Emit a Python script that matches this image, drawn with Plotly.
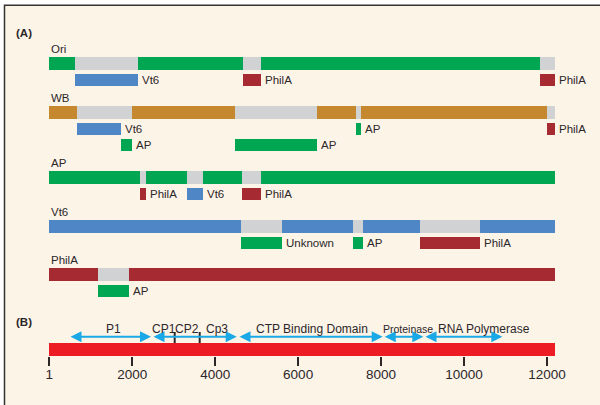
import plotly.graph_objects as go

# ---------------- data ----------------
GENOME_LENGTH = 12195

GENOMES = ["Ori", "WB", "AP", "Vt6", "PhilA"]

# main genome bars: (start, end, matching isolate or "gap")
ORI_SEGMENTS = [(0, 621, "Ori"), (621, 2139, "gap"), (2139, 4671, "Ori"),
                (4671, 5105, "gap"), (5105, 11831, "Ori"), (11831, 12195, "gap")]
WB_SEGMENTS = [(0, 669, "WB"), (669, 1995, "gap"), (1995, 4478, "WB"),
               (4478, 6448, "gap"), (6448, 7396, "WB"), (7396, 7516, "gap"),
               (7516, 11993, "WB"), (11993, 12195, "gap")]
AP_SEGMENTS = [(0, 2188, "AP"), (2188, 2333, "gap"), (2333, 3321, "AP"),
               (3321, 3707, "gap"), (3707, 4648, "AP"), (4648, 5105, "gap"),
               (5105, 12195, "AP")]
VT6_SEGMENTS = [(0, 4623, "Vt6"), (4623, 5612, "gap"), (5612, 7324, "Vt6"),
                (7324, 7565, "gap"), (7565, 8939, "Vt6"), (8939, 10386, "gap"),
                (10386, 12195, "Vt6")]
PHILA_SEGMENTS = [(0, 1175, "PhilA"), (1175, 1923, "gap"), (1923, 12195, "PhilA")]

# recombinant regions: (start, end, closest isolate, sub-row)
ORI_HITS = [(621, 2139, "Vt6", 0), (4671, 5105, "PhilA", 0), (11831, 12195, "PhilA", 0)]
WB_HITS = [(669, 1724, "Vt6", 0), (7396, 7516, "AP", 0), (11993, 12195, "PhilA", 0),
           (1731, 1995, "AP", 1), (4478, 6448, "AP", 1)]
AP_HITS = [(2188, 2333, "PhilA", 0), (3321, 3707, "Vt6", 0), (4648, 5105, "PhilA", 0)]
VT6_HITS = [(4623, 5612, "Unknown", 0), (7324, 7565, "AP", 0), (8939, 10386, "PhilA", 0)]
PHILA_HITS = [(1175, 1923, "AP", 0)]

SEGMENTS = [ORI_SEGMENTS, WB_SEGMENTS, AP_SEGMENTS, VT6_SEGMENTS, PHILA_SEGMENTS]
HITS = [ORI_HITS, WB_HITS, AP_HITS, VT6_HITS, PHILA_HITS]

# panel B: genome organisation
DOMAIN_NAMES = ["P1", "CP1", "CP2", "Cp3", "CTP Binding Domain", "Proteinase", "RNA Polymerase"]
DOMAIN_START = [476, 2477, 3024, 3627, 4551, 8053, 9035]
DOMAIN_END = [2453, 3024, 3627, 4519, 8039, 9018, 10923]
ARROW_GROUPS = [["P1"], ["CP1", "CP2", "Cp3"], ["CTP Binding Domain"],
                ["Proteinase"], ["RNA Polymerase"]]

TICK_VALUES = [1, 2000, 4000, 6000, 8000, 10000, 12000]
TICK_LABELS = ["1", "2000", "4000", "6000", "8000", "10000", "12000"]

# ---------------- style ----------------
COLORS = {"Ori": "#00a651", "AP": "#00a651", "Unknown": "#00a651",
          "WB": "#c5882f", "Vt6": "#4f86c5", "PhilA": "#a52a31", "gap": "#d1d2d4"}
TEXT = "#2b2728"
FONT = "Liberation Sans, Arial, sans-serif"
ARROW = "#1aa9e6"
GENOME_RED = "#ed1c24"

W, H = 600, 405
PX0 = 49.26           # pixel of genome position 0
UNITS_PER_PX = 24.11
X_MIN = -PX0 * UNITS_PER_PX
X_MAX = X_MIN + W * UNITS_PER_PX

MAIN_Y = [63.5, 112.3, 177.3, 226.3, 274.3]
HIT_DY = 16.6
HIT_ROW_DY = 16.3
BAR_W = 12.5

fig = go.Figure()
ann = []

for gi, g in enumerate(GENOMES):
    segs = SEGMENTS[gi]
    y0 = MAIN_Y[gi]
    fig.add_trace(go.Bar(
        orientation="h", y=[y0] * len(segs),
        base=[s[0] for s in segs], x=[s[1] - s[0] for s in segs],
        width=BAR_W, marker=dict(color=[COLORS[s[2]] for s in segs], line=dict(width=0)),
        hoverinfo="skip"))
    ann.append(dict(x=0, y=y0 - 14.5, xref="x", yref="y", text=g, showarrow=False,
                    xanchor="left", yanchor="middle", xshift=0,
                    font=dict(size=11.5, color=TEXT, family=FONT)))
    hits = HITS[gi]
    hy = [y0 + HIT_DY + h[3] * HIT_ROW_DY for h in hits]
    fig.add_trace(go.Bar(
        orientation="h", y=hy,
        base=[h[0] for h in hits], x=[h[1] - h[0] for h in hits],
        width=BAR_W, marker=dict(color=[COLORS[h[2]] for h in hits], line=dict(width=0)),
        hoverinfo="skip"))
    for h, yy in zip(hits, hy):
        ann.append(dict(x=h[1], y=yy, xref="x", yref="y", text=h[2], showarrow=False,
                        xanchor="left", yanchor="middle", xshift=2,
                        font=dict(size=11.5, color=TEXT, family=FONT)))

# panel B genome bar
B_Y = 349.2
fig.add_trace(go.Bar(orientation="h", y=[B_Y], base=[0], x=[GENOME_LENGTH], width=13,
                     marker=dict(color=GENOME_RED, line=dict(width=0)), hoverinfo="skip"))

ARROW_Y = 336.7
LABEL_Y = 328.5
idx = {n: i for i, n in enumerate(DOMAIN_NAMES)}
div_x, div_y = [], []
for grp in ARROW_GROUPS:
    s = DOMAIN_START[idx[grp[0]]]
    e = DOMAIN_END[idx[grp[-1]]]
    ann.append(dict(x=e, y=ARROW_Y, ax=s, ay=ARROW_Y, xref="x", yref="y", axref="x", ayref="y",
                    text="", showarrow=True, arrowside="end+start", arrowhead=2, startarrowhead=2,
                    arrowsize=1.1, startarrowsize=1.1, arrowwidth=2, arrowcolor=ARROW,
                    standoff=0, startstandoff=0))
    for n in grp[1:]:
        div_x += [DOMAIN_START[idx[n]], DOMAIN_START[idx[n]], None]
        div_y += [332, 343, None]

fig.add_trace(go.Scatter(x=div_x, y=div_y, mode="lines", line=dict(color=TEXT, width=2),
                         hoverinfo="skip"))

NUDGE = {"P1": 80, "CP1": 10, "CP2": 6, "Cp3": -36, "CTP Binding Domain": 47,
         "Proteinase": 113, "RNA Polymerase": 504}
for n, s, e in zip(DOMAIN_NAMES, DOMAIN_START, DOMAIN_END):
    ann.append(dict(x=(s + e) / 2 + NUDGE[n], y=LABEL_Y, xref="x", yref="y", text=n,
                    showarrow=False, xanchor="center", yanchor="middle",
                    font=dict(size=10.5 if n == "Proteinase" else 12, color=TEXT, family=FONT)))

# panel letters
ann.append(dict(x=14 / W, y=1 - 33 / H, xref="paper", yref="paper", text="<b>(A)</b>",
                showarrow=False, xanchor="left", yanchor="middle",
                font=dict(size=11.5, color=TEXT, family=FONT)))
ann.append(dict(x=14 / W, y=1 - 321.7 / H, xref="paper", yref="paper", text="<b>(B)</b>",
                showarrow=False, xanchor="left", yanchor="middle",
                font=dict(size=11.5, color=TEXT, family=FONT)))

shapes = [dict(type="rect", xref="paper", yref="paper", x0=4.5 / W, x1=1.3,
               y0=-0.3, y1=1 - 5.2 / H, fillcolor="#fdf4e8",
               line=dict(color="#333333", width=1.5), layer="below")]

fig.update_layout(
    width=W, height=H, margin=dict(l=0, r=0, t=0, b=0),
    paper_bgcolor="white", plot_bgcolor="rgba(0,0,0,0)",
    showlegend=False, barmode="overlay", bargap=0,
    annotations=ann, shapes=shapes,
    xaxis=dict(range=[X_MIN, X_MAX], anchor="free", position=1 - 355.7 / H,
               tickvals=TICK_VALUES, ticktext=TICK_LABELS, ticks="outside",
               ticklen=9, tickwidth=2, tickcolor=TEXT, showline=False, showgrid=False,
               zeroline=False, fixedrange=True, ticklabelstandoff=-3,
               tickfont=dict(size=13.5, color=TEXT, family=FONT)),
    yaxis=dict(range=[H, 0], visible=False, fixedrange=True),
)

fig.write_html("out.html", config={"displayModeBar": False},
               post_script="document.body.style.margin='0';document.body.style.padding='0';")
